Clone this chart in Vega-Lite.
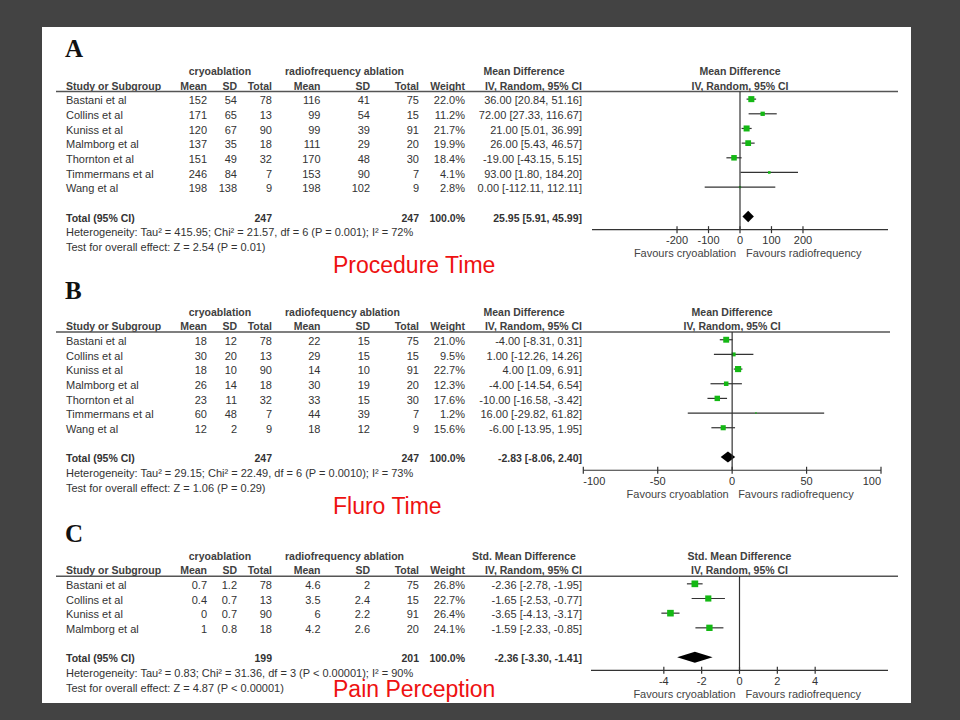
{
"$schema":"https://vega.github.io/schema/vega-lite/v6.json",
"width":869,"height":676,
"autosize":{"type":"none"},
"padding":{"left":42,"top":27,"right":49,"bottom":17},
"background":"#434343",
"config":{"view":{"fill":"#ffffff","stroke":null},"text":{"font":"Liberation Sans","fontSize":11,"color":"#333333"}},
"datasets":{
"rowsA":[
{"study":"Bastani et al","cMean":152,"cSD":54,"cN":78,"rMean":116,"rSD":41,"rN":75,"w":0.220,"ci":"36.00 [20.84, 51.16]","est":36,"lo":20.84,"hi":51.16},
{"study":"Collins et al","cMean":171,"cSD":65,"cN":13,"rMean":99,"rSD":54,"rN":15,"w":0.112,"ci":"72.00 [27.33, 116.67]","est":72,"lo":27.33,"hi":116.67},
{"study":"Kuniss et al","cMean":120,"cSD":67,"cN":90,"rMean":99,"rSD":39,"rN":91,"w":0.217,"ci":"21.00 [5.01, 36.99]","est":21,"lo":5.01,"hi":36.99},
{"study":"Malmborg et al","cMean":137,"cSD":35,"cN":18,"rMean":111,"rSD":29,"rN":20,"w":0.199,"ci":"26.00 [5.43, 46.57]","est":26,"lo":5.43,"hi":46.57},
{"study":"Thornton et al","cMean":151,"cSD":49,"cN":32,"rMean":170,"rSD":48,"rN":30,"w":0.184,"ci":"-19.00 [-43.15, 5.15]","est":-19,"lo":-43.15,"hi":5.15},
{"study":"Timmermans et al","cMean":246,"cSD":84,"cN":7,"rMean":153,"rSD":90,"rN":7,"w":0.041,"ci":"93.00 [1.80, 184.20]","est":93,"lo":1.8,"hi":184.2},
{"study":"Wang et al","cMean":198,"cSD":138,"cN":9,"rMean":198,"rSD":102,"rN":9,"w":0.028,"ci":"0.00 [-112.11, 112.11]","est":0,"lo":-112.11,"hi":112.11}
],
"metaA":[{"letter":"A","grpC":"cryoablation","grpR":"radiofrequency ablation","effect":"Mean Difference","method":"IV, Random, 95% CI","totLabel":"Total (95% CI)","totC":247,"totR":247,"totW":1,"totCI":"25.95 [5.91, 45.99]","est":25.95,"lo":5.91,"hi":45.99,"het":"Heterogeneity: Tau² = 415.95; Chi² = 21.57, df = 6 (P = 0.001); I² = 72%","test":"Test for overall effect: Z = 2.54 (P = 0.01)","title":"Procedure Time","favL":"Favours cryoablation","favR":"Favours radiofrequency"}],
"ticksA":[{"t":-200},{"t":-100},{"t":0},{"t":100},{"t":200}],
"rowsB":[
{"study":"Bastani et al","cMean":18,"cSD":12,"cN":78,"rMean":22,"rSD":15,"rN":75,"w":0.210,"ci":"-4.00 [-8.31, 0.31]","est":-4,"lo":-8.31,"hi":0.31},
{"study":"Collins et al","cMean":30,"cSD":20,"cN":13,"rMean":29,"rSD":15,"rN":15,"w":0.095,"ci":"1.00 [-12.26, 14.26]","est":1,"lo":-12.26,"hi":14.26},
{"study":"Kuniss et al","cMean":18,"cSD":10,"cN":90,"rMean":14,"rSD":10,"rN":91,"w":0.227,"ci":"4.00 [1.09, 6.91]","est":4,"lo":1.09,"hi":6.91},
{"study":"Malmborg et al","cMean":26,"cSD":14,"cN":18,"rMean":30,"rSD":19,"rN":20,"w":0.123,"ci":"-4.00 [-14.54, 6.54]","est":-4,"lo":-14.54,"hi":6.54},
{"study":"Thornton et al","cMean":23,"cSD":11,"cN":32,"rMean":33,"rSD":15,"rN":30,"w":0.176,"ci":"-10.00 [-16.58, -3.42]","est":-10,"lo":-16.58,"hi":-3.42},
{"study":"Timmermans et al","cMean":60,"cSD":48,"cN":7,"rMean":44,"rSD":39,"rN":7,"w":0.012,"ci":"16.00 [-29.82, 61.82]","est":16,"lo":-29.82,"hi":61.82},
{"study":"Wang et al","cMean":12,"cSD":2,"cN":9,"rMean":18,"rSD":12,"rN":9,"w":0.156,"ci":"-6.00 [-13.95, 1.95]","est":-6,"lo":-13.95,"hi":1.95}
],
"metaB":[{"letter":"B","grpC":"cryoablation","grpR":"radiofequency ablation","effect":"Mean Difference","method":"IV, Random, 95% CI","totLabel":"Total (95% CI)","totC":247,"totR":247,"totW":1,"totCI":"-2.83 [-8.06, 2.40]","est":-2.83,"lo":-8.06,"hi":2.40,"het":"Heterogeneity: Tau² = 29.15; Chi² = 22.49, df = 6 (P = 0.0010); I² = 73%","test":"Test for overall effect: Z = 1.06 (P = 0.29)","title":"Fluro Time","favL":"Favours cryoablation","favR":"Favours radiofrequency"}],
"ticksB":[{"t":-100},{"t":-50},{"t":0},{"t":50},{"t":100}],
"rowsC":[
{"study":"Bastani et al","cMean":0.7,"cSD":1.2,"cN":78,"rMean":4.6,"rSD":2,"rN":75,"w":0.268,"ci":"-2.36 [-2.78, -1.95]","est":-2.36,"lo":-2.78,"hi":-1.95},
{"study":"Collins et al","cMean":0.4,"cSD":0.7,"cN":13,"rMean":3.5,"rSD":2.4,"rN":15,"w":0.227,"ci":"-1.65 [-2.53, -0.77]","est":-1.65,"lo":-2.53,"hi":-0.77},
{"study":"Kuniss et al","cMean":0,"cSD":0.7,"cN":90,"rMean":6,"rSD":2.2,"rN":91,"w":0.264,"ci":"-3.65 [-4.13, -3.17]","est":-3.65,"lo":-4.13,"hi":-3.17},
{"study":"Malmborg et al","cMean":1,"cSD":0.8,"cN":18,"rMean":4.2,"rSD":2.6,"rN":20,"w":0.241,"ci":"-1.59 [-2.33, -0.85]","est":-1.59,"lo":-2.33,"hi":-0.85}
],
"metaC":[{"letter":"C","grpC":"cryoablation","grpR":"radiofrequency ablation","effect":"Std. Mean Difference","method":"IV, Random, 95% CI","totLabel":"Total (95% CI)","totC":199,"totR":201,"totW":1,"totCI":"-2.36 [-3.30, -1.41]","est":-2.36,"lo":-3.30,"hi":-1.41,"het":"Heterogeneity: Tau² = 0.83; Chi² = 31.36, df = 3 (P < 0.00001); I² = 90%","test":"Test for overall effect: Z = 4.87 (P < 0.00001)","title":"Pain Perception","favL":"Favours cryoablation","favR":"Favours radiofrequency"}],
"ticksC":[{"t":-4},{"t":-2},{"t":0},{"t":2},{"t":4}]
},
"layer":[
{"layer":[
{"layer":[
{"data":{"name":"metaA"},"mark":{"type":"text","align":"left","baseline":"middle","font":"Liberation Serif","fontSize":25,"fontWeight":"bold","color":"#111111","dy":6},"encoding":{"x":{"datum":23,"type":"quantitative","scale":{"domain":[0,869],"range":[0,869],"nice":false,"zero":false},"axis":null},"y":{"datum":"letter","type":"nominal","scale":{"type":"band","domain":["letter","g0","h1","h2","Bastani et al","Collins et al","Kuniss et al","Malmborg et al","Thornton et al","Timmermans et al","Wang et al","gap","total","het","test","title"],"range":[8.33,243],"paddingInner":0,"paddingOuter":0},"axis":null},"text":{"field":"letter","type":"nominal"}}},
{"data":{"name":"metaA"},"mark":{"type":"text","align":"left","baseline":"middle","fontWeight":"bold","fontSize":10.5,"color":"#404040"},"encoding":{"x":{"datum":146.7,"type":"quantitative","scale":{"domain":[0,869],"range":[0,869],"nice":false,"zero":false},"axis":null},"y":{"datum":"h1","type":"nominal","scale":{"type":"band","domain":["letter","g0","h1","h2","Bastani et al","Collins et al","Kuniss et al","Malmborg et al","Thornton et al","Timmermans et al","Wang et al","gap","total","het","test","title"],"range":[8.33,243],"paddingInner":0,"paddingOuter":0},"axis":null},"text":{"field":"grpC","type":"nominal"}}},
{"data":{"name":"metaA"},"mark":{"type":"text","align":"left","baseline":"middle","fontWeight":"bold","fontSize":10.5,"color":"#404040"},"encoding":{"x":{"datum":243,"type":"quantitative","scale":{"domain":[0,869],"range":[0,869],"nice":false,"zero":false},"axis":null},"y":{"datum":"h1","type":"nominal","scale":{"type":"band","domain":["letter","g0","h1","h2","Bastani et al","Collins et al","Kuniss et al","Malmborg et al","Thornton et al","Timmermans et al","Wang et al","gap","total","het","test","title"],"range":[8.33,243],"paddingInner":0,"paddingOuter":0},"axis":null},"text":{"field":"grpR","type":"nominal"}}},
{"data":{"name":"metaA"},"mark":{"type":"text","align":"center","baseline":"middle","fontWeight":"bold","fontSize":10.5,"color":"#404040"},"encoding":{"x":{"datum":482,"type":"quantitative","scale":{"domain":[0,869],"range":[0,869],"nice":false,"zero":false},"axis":null},"y":{"datum":"h1","type":"nominal","scale":{"type":"band","domain":["letter","g0","h1","h2","Bastani et al","Collins et al","Kuniss et al","Malmborg et al","Thornton et al","Timmermans et al","Wang et al","gap","total","het","test","title"],"range":[8.33,243],"paddingInner":0,"paddingOuter":0},"axis":null},"text":{"field":"effect","type":"nominal"}}},
{"data":{"name":"metaA"},"mark":{"type":"text","align":"left","baseline":"middle","fontWeight":"bold","fontSize":10.5,"color":"#404040"},"encoding":{"x":{"datum":24,"type":"quantitative","scale":{"domain":[0,869],"range":[0,869],"nice":false,"zero":false},"axis":null},"y":{"datum":"h2","type":"nominal","scale":{"type":"band","domain":["letter","g0","h1","h2","Bastani et al","Collins et al","Kuniss et al","Malmborg et al","Thornton et al","Timmermans et al","Wang et al","gap","total","het","test","title"],"range":[8.33,243],"paddingInner":0,"paddingOuter":0},"axis":null},"text":{"value":"Study or Subgroup"}}},
{"data":{"name":"metaA"},"mark":{"type":"text","align":"right","baseline":"middle","fontWeight":"bold","fontSize":10.5,"color":"#404040"},"encoding":{"x":{"datum":165,"type":"quantitative","scale":{"domain":[0,869],"range":[0,869],"nice":false,"zero":false},"axis":null},"y":{"datum":"h2","type":"nominal","scale":{"type":"band","domain":["letter","g0","h1","h2","Bastani et al","Collins et al","Kuniss et al","Malmborg et al","Thornton et al","Timmermans et al","Wang et al","gap","total","het","test","title"],"range":[8.33,243],"paddingInner":0,"paddingOuter":0},"axis":null},"text":{"value":"Mean"}}},
{"data":{"name":"metaA"},"mark":{"type":"text","align":"right","baseline":"middle","fontWeight":"bold","fontSize":10.5,"color":"#404040"},"encoding":{"x":{"datum":195,"type":"quantitative","scale":{"domain":[0,869],"range":[0,869],"nice":false,"zero":false},"axis":null},"y":{"datum":"h2","type":"nominal","scale":{"type":"band","domain":["letter","g0","h1","h2","Bastani et al","Collins et al","Kuniss et al","Malmborg et al","Thornton et al","Timmermans et al","Wang et al","gap","total","het","test","title"],"range":[8.33,243],"paddingInner":0,"paddingOuter":0},"axis":null},"text":{"value":"SD"}}},
{"data":{"name":"metaA"},"mark":{"type":"text","align":"right","baseline":"middle","fontWeight":"bold","fontSize":10.5,"color":"#404040"},"encoding":{"x":{"datum":230,"type":"quantitative","scale":{"domain":[0,869],"range":[0,869],"nice":false,"zero":false},"axis":null},"y":{"datum":"h2","type":"nominal","scale":{"type":"band","domain":["letter","g0","h1","h2","Bastani et al","Collins et al","Kuniss et al","Malmborg et al","Thornton et al","Timmermans et al","Wang et al","gap","total","het","test","title"],"range":[8.33,243],"paddingInner":0,"paddingOuter":0},"axis":null},"text":{"value":"Total"}}},
{"data":{"name":"metaA"},"mark":{"type":"text","align":"right","baseline":"middle","fontWeight":"bold","fontSize":10.5,"color":"#404040"},"encoding":{"x":{"datum":278.5,"type":"quantitative","scale":{"domain":[0,869],"range":[0,869],"nice":false,"zero":false},"axis":null},"y":{"datum":"h2","type":"nominal","scale":{"type":"band","domain":["letter","g0","h1","h2","Bastani et al","Collins et al","Kuniss et al","Malmborg et al","Thornton et al","Timmermans et al","Wang et al","gap","total","het","test","title"],"range":[8.33,243],"paddingInner":0,"paddingOuter":0},"axis":null},"text":{"value":"Mean"}}},
{"data":{"name":"metaA"},"mark":{"type":"text","align":"right","baseline":"middle","fontWeight":"bold","fontSize":10.5,"color":"#404040"},"encoding":{"x":{"datum":328,"type":"quantitative","scale":{"domain":[0,869],"range":[0,869],"nice":false,"zero":false},"axis":null},"y":{"datum":"h2","type":"nominal","scale":{"type":"band","domain":["letter","g0","h1","h2","Bastani et al","Collins et al","Kuniss et al","Malmborg et al","Thornton et al","Timmermans et al","Wang et al","gap","total","het","test","title"],"range":[8.33,243],"paddingInner":0,"paddingOuter":0},"axis":null},"text":{"value":"SD"}}},
{"data":{"name":"metaA"},"mark":{"type":"text","align":"right","baseline":"middle","fontWeight":"bold","fontSize":10.5,"color":"#404040"},"encoding":{"x":{"datum":377,"type":"quantitative","scale":{"domain":[0,869],"range":[0,869],"nice":false,"zero":false},"axis":null},"y":{"datum":"h2","type":"nominal","scale":{"type":"band","domain":["letter","g0","h1","h2","Bastani et al","Collins et al","Kuniss et al","Malmborg et al","Thornton et al","Timmermans et al","Wang et al","gap","total","het","test","title"],"range":[8.33,243],"paddingInner":0,"paddingOuter":0},"axis":null},"text":{"value":"Total"}}},
{"data":{"name":"metaA"},"mark":{"type":"text","align":"right","baseline":"middle","fontWeight":"bold","fontSize":10.5,"color":"#404040"},"encoding":{"x":{"datum":423,"type":"quantitative","scale":{"domain":[0,869],"range":[0,869],"nice":false,"zero":false},"axis":null},"y":{"datum":"h2","type":"nominal","scale":{"type":"band","domain":["letter","g0","h1","h2","Bastani et al","Collins et al","Kuniss et al","Malmborg et al","Thornton et al","Timmermans et al","Wang et al","gap","total","het","test","title"],"range":[8.33,243],"paddingInner":0,"paddingOuter":0},"axis":null},"text":{"value":"Weight"}}},
{"data":{"name":"metaA"},"mark":{"type":"text","align":"right","baseline":"middle","fontWeight":"bold","fontSize":10.5,"color":"#404040"},"encoding":{"x":{"datum":540,"type":"quantitative","scale":{"domain":[0,869],"range":[0,869],"nice":false,"zero":false},"axis":null},"y":{"datum":"h2","type":"nominal","scale":{"type":"band","domain":["letter","g0","h1","h2","Bastani et al","Collins et al","Kuniss et al","Malmborg et al","Thornton et al","Timmermans et al","Wang et al","gap","total","het","test","title"],"range":[8.33,243],"paddingInner":0,"paddingOuter":0},"axis":null},"text":{"field":"method","type":"nominal"}}},
{"data":{"name":"rowsA"},"mark":{"type":"text","align":"left","baseline":"middle"},"encoding":{"x":{"datum":24,"type":"quantitative","scale":{"domain":[0,869],"range":[0,869],"nice":false,"zero":false},"axis":null},"y":{"field":"study","type":"nominal","scale":{"type":"band","domain":["letter","g0","h1","h2","Bastani et al","Collins et al","Kuniss et al","Malmborg et al","Thornton et al","Timmermans et al","Wang et al","gap","total","het","test","title"],"range":[8.33,243],"paddingInner":0,"paddingOuter":0},"axis":null},"text":{"field":"study","type":"nominal"}}},
{"data":{"name":"rowsA"},"mark":{"type":"text","align":"right","baseline":"middle"},"encoding":{"x":{"datum":165,"type":"quantitative","scale":{"domain":[0,869],"range":[0,869],"nice":false,"zero":false},"axis":null},"y":{"field":"study","type":"nominal","scale":{"type":"band","domain":["letter","g0","h1","h2","Bastani et al","Collins et al","Kuniss et al","Malmborg et al","Thornton et al","Timmermans et al","Wang et al","gap","total","het","test","title"],"range":[8.33,243],"paddingInner":0,"paddingOuter":0},"axis":null},"text":{"field":"cMean","type":"nominal"}}},
{"data":{"name":"rowsA"},"mark":{"type":"text","align":"right","baseline":"middle"},"encoding":{"x":{"datum":195,"type":"quantitative","scale":{"domain":[0,869],"range":[0,869],"nice":false,"zero":false},"axis":null},"y":{"field":"study","type":"nominal","scale":{"type":"band","domain":["letter","g0","h1","h2","Bastani et al","Collins et al","Kuniss et al","Malmborg et al","Thornton et al","Timmermans et al","Wang et al","gap","total","het","test","title"],"range":[8.33,243],"paddingInner":0,"paddingOuter":0},"axis":null},"text":{"field":"cSD","type":"nominal"}}},
{"data":{"name":"rowsA"},"mark":{"type":"text","align":"right","baseline":"middle"},"encoding":{"x":{"datum":230,"type":"quantitative","scale":{"domain":[0,869],"range":[0,869],"nice":false,"zero":false},"axis":null},"y":{"field":"study","type":"nominal","scale":{"type":"band","domain":["letter","g0","h1","h2","Bastani et al","Collins et al","Kuniss et al","Malmborg et al","Thornton et al","Timmermans et al","Wang et al","gap","total","het","test","title"],"range":[8.33,243],"paddingInner":0,"paddingOuter":0},"axis":null},"text":{"field":"cN","type":"nominal"}}},
{"data":{"name":"rowsA"},"mark":{"type":"text","align":"right","baseline":"middle"},"encoding":{"x":{"datum":278.5,"type":"quantitative","scale":{"domain":[0,869],"range":[0,869],"nice":false,"zero":false},"axis":null},"y":{"field":"study","type":"nominal","scale":{"type":"band","domain":["letter","g0","h1","h2","Bastani et al","Collins et al","Kuniss et al","Malmborg et al","Thornton et al","Timmermans et al","Wang et al","gap","total","het","test","title"],"range":[8.33,243],"paddingInner":0,"paddingOuter":0},"axis":null},"text":{"field":"rMean","type":"nominal"}}},
{"data":{"name":"rowsA"},"mark":{"type":"text","align":"right","baseline":"middle"},"encoding":{"x":{"datum":328,"type":"quantitative","scale":{"domain":[0,869],"range":[0,869],"nice":false,"zero":false},"axis":null},"y":{"field":"study","type":"nominal","scale":{"type":"band","domain":["letter","g0","h1","h2","Bastani et al","Collins et al","Kuniss et al","Malmborg et al","Thornton et al","Timmermans et al","Wang et al","gap","total","het","test","title"],"range":[8.33,243],"paddingInner":0,"paddingOuter":0},"axis":null},"text":{"field":"rSD","type":"nominal"}}},
{"data":{"name":"rowsA"},"mark":{"type":"text","align":"right","baseline":"middle"},"encoding":{"x":{"datum":377,"type":"quantitative","scale":{"domain":[0,869],"range":[0,869],"nice":false,"zero":false},"axis":null},"y":{"field":"study","type":"nominal","scale":{"type":"band","domain":["letter","g0","h1","h2","Bastani et al","Collins et al","Kuniss et al","Malmborg et al","Thornton et al","Timmermans et al","Wang et al","gap","total","het","test","title"],"range":[8.33,243],"paddingInner":0,"paddingOuter":0},"axis":null},"text":{"field":"rN","type":"nominal"}}},
{"data":{"name":"rowsA"},"mark":{"type":"text","align":"right","baseline":"middle"},"encoding":{"x":{"datum":423,"type":"quantitative","scale":{"domain":[0,869],"range":[0,869],"nice":false,"zero":false},"axis":null},"y":{"field":"study","type":"nominal","scale":{"type":"band","domain":["letter","g0","h1","h2","Bastani et al","Collins et al","Kuniss et al","Malmborg et al","Thornton et al","Timmermans et al","Wang et al","gap","total","het","test","title"],"range":[8.33,243],"paddingInner":0,"paddingOuter":0},"axis":null},"text":{"field":"w","type":"quantitative","format":".1%"}}},
{"data":{"name":"rowsA"},"mark":{"type":"text","align":"right","baseline":"middle"},"encoding":{"x":{"datum":540,"type":"quantitative","scale":{"domain":[0,869],"range":[0,869],"nice":false,"zero":false},"axis":null},"y":{"field":"study","type":"nominal","scale":{"type":"band","domain":["letter","g0","h1","h2","Bastani et al","Collins et al","Kuniss et al","Malmborg et al","Thornton et al","Timmermans et al","Wang et al","gap","total","het","test","title"],"range":[8.33,243],"paddingInner":0,"paddingOuter":0},"axis":null},"text":{"field":"ci","type":"nominal"}}},
{"data":{"name":"metaA"},"mark":{"type":"text","align":"left","baseline":"middle","fontWeight":"bold","fontSize":10.5},"encoding":{"x":{"datum":24,"type":"quantitative","scale":{"domain":[0,869],"range":[0,869],"nice":false,"zero":false},"axis":null},"y":{"datum":"total","type":"nominal","scale":{"type":"band","domain":["letter","g0","h1","h2","Bastani et al","Collins et al","Kuniss et al","Malmborg et al","Thornton et al","Timmermans et al","Wang et al","gap","total","het","test","title"],"range":[8.33,243],"paddingInner":0,"paddingOuter":0},"axis":null},"text":{"field":"totLabel","type":"nominal"}}},
{"data":{"name":"metaA"},"mark":{"type":"text","align":"right","baseline":"middle","fontWeight":"bold","fontSize":10.5},"encoding":{"x":{"datum":230,"type":"quantitative","scale":{"domain":[0,869],"range":[0,869],"nice":false,"zero":false},"axis":null},"y":{"datum":"total","type":"nominal","scale":{"type":"band","domain":["letter","g0","h1","h2","Bastani et al","Collins et al","Kuniss et al","Malmborg et al","Thornton et al","Timmermans et al","Wang et al","gap","total","het","test","title"],"range":[8.33,243],"paddingInner":0,"paddingOuter":0},"axis":null},"text":{"field":"totC","type":"nominal"}}},
{"data":{"name":"metaA"},"mark":{"type":"text","align":"right","baseline":"middle","fontWeight":"bold","fontSize":10.5},"encoding":{"x":{"datum":377,"type":"quantitative","scale":{"domain":[0,869],"range":[0,869],"nice":false,"zero":false},"axis":null},"y":{"datum":"total","type":"nominal","scale":{"type":"band","domain":["letter","g0","h1","h2","Bastani et al","Collins et al","Kuniss et al","Malmborg et al","Thornton et al","Timmermans et al","Wang et al","gap","total","het","test","title"],"range":[8.33,243],"paddingInner":0,"paddingOuter":0},"axis":null},"text":{"field":"totR","type":"nominal"}}},
{"data":{"name":"metaA"},"mark":{"type":"text","align":"right","baseline":"middle","fontWeight":"bold","fontSize":10.5},"encoding":{"x":{"datum":423,"type":"quantitative","scale":{"domain":[0,869],"range":[0,869],"nice":false,"zero":false},"axis":null},"y":{"datum":"total","type":"nominal","scale":{"type":"band","domain":["letter","g0","h1","h2","Bastani et al","Collins et al","Kuniss et al","Malmborg et al","Thornton et al","Timmermans et al","Wang et al","gap","total","het","test","title"],"range":[8.33,243],"paddingInner":0,"paddingOuter":0},"axis":null},"text":{"field":"totW","type":"quantitative","format":".1%"}}},
{"data":{"name":"metaA"},"mark":{"type":"text","align":"right","baseline":"middle","fontWeight":"bold","fontSize":10.5},"encoding":{"x":{"datum":540,"type":"quantitative","scale":{"domain":[0,869],"range":[0,869],"nice":false,"zero":false},"axis":null},"y":{"datum":"total","type":"nominal","scale":{"type":"band","domain":["letter","g0","h1","h2","Bastani et al","Collins et al","Kuniss et al","Malmborg et al","Thornton et al","Timmermans et al","Wang et al","gap","total","het","test","title"],"range":[8.33,243],"paddingInner":0,"paddingOuter":0},"axis":null},"text":{"field":"totCI","type":"nominal"}}},
{"data":{"name":"metaA"},"mark":{"type":"text","align":"left","baseline":"middle"},"encoding":{"x":{"datum":24,"type":"quantitative","scale":{"domain":[0,869],"range":[0,869],"nice":false,"zero":false},"axis":null},"y":{"datum":"het","type":"nominal","scale":{"type":"band","domain":["letter","g0","h1","h2","Bastani et al","Collins et al","Kuniss et al","Malmborg et al","Thornton et al","Timmermans et al","Wang et al","gap","total","het","test","title"],"range":[8.33,243],"paddingInner":0,"paddingOuter":0},"axis":null},"text":{"field":"het","type":"nominal"}}},
{"data":{"name":"metaA"},"mark":{"type":"text","align":"left","baseline":"middle"},"encoding":{"x":{"datum":24,"type":"quantitative","scale":{"domain":[0,869],"range":[0,869],"nice":false,"zero":false},"axis":null},"y":{"datum":"test","type":"nominal","scale":{"type":"band","domain":["letter","g0","h1","h2","Bastani et al","Collins et al","Kuniss et al","Malmborg et al","Thornton et al","Timmermans et al","Wang et al","gap","total","het","test","title"],"range":[8.33,243],"paddingInner":0,"paddingOuter":0},"axis":null},"text":{"field":"test","type":"nominal"}}},
{"data":{"name":"metaA"},"mark":{"type":"text","align":"left","baseline":"middle","fontSize":23,"color":"#ee1111","dy":3.5},"encoding":{"x":{"datum":291,"type":"quantitative","scale":{"domain":[0,869],"range":[0,869],"nice":false,"zero":false},"axis":null},"y":{"datum":"title","type":"nominal","scale":{"type":"band","domain":["letter","g0","h1","h2","Bastani et al","Collins et al","Kuniss et al","Malmborg et al","Thornton et al","Timmermans et al","Wang et al","gap","total","het","test","title"],"range":[8.33,243],"paddingInner":0,"paddingOuter":0},"axis":null},"text":{"field":"title","type":"nominal"}}},
{"data":{"name":"metaA"},"mark":{"type":"rule","color":"#555555","strokeWidth":1.5},"encoding":{"x":{"datum":14,"type":"quantitative","scale":{"domain":[0,869],"range":[0,869],"nice":false,"zero":false},"axis":null},"x2":{"datum":856},"y":{"datum":"h2","type":"nominal","bandPosition":0.83,"scale":{"type":"band","domain":["letter","g0","h1","h2","Bastani et al","Collins et al","Kuniss et al","Malmborg et al","Thornton et al","Timmermans et al","Wang et al","gap","total","het","test","title"],"range":[8.33,243],"paddingInner":0,"paddingOuter":0},"axis":null}}}
]},
{"layer":[
{"data":{"name":"rowsA"},"mark":{"type":"rule","color":"#333333","strokeWidth":1.2},"encoding":{"x":{"field":"lo","type":"quantitative","scale":{"domain":[-470,470],"range":[550,846],"nice":false,"zero":false},"axis":null},"x2":{"field":"hi"},"y":{"field":"study","type":"nominal","bandPosition":0.35,"scale":{"type":"band","domain":["letter","g0","h1","h2","Bastani et al","Collins et al","Kuniss et al","Malmborg et al","Thornton et al","Timmermans et al","Wang et al","gap","total","het","test","title"],"range":[8.33,243],"paddingInner":0,"paddingOuter":0},"axis":null}}},
{"data":{"name":"rowsA"},"mark":{"type":"point","shape":"square","filled":true,"color":"#14b814","opacity":1},"encoding":{"x":{"field":"est","type":"quantitative","scale":{"domain":[-470,470],"range":[550,846],"nice":false,"zero":false},"axis":null},"y":{"field":"study","type":"nominal","bandPosition":0.35,"scale":{"type":"band","domain":["letter","g0","h1","h2","Bastani et al","Collins et al","Kuniss et al","Malmborg et al","Thornton et al","Timmermans et al","Wang et al","gap","total","het","test","title"],"range":[8.33,243],"paddingInner":0,"paddingOuter":0},"axis":null},"size":{"field":"w","type":"quantitative","scale":{"domain":[0,0.3],"range":[0,50]},"legend":null}}},
{"data":{"name":"metaA"},"mark":{"type":"point","shape":"M-1,0L0,-1L1,0L0,1Z","size":130,"filled":true,"color":"#000000","opacity":1},"encoding":{"x":{"field":"est","type":"quantitative","scale":{"domain":[-470,470],"range":[550,846],"nice":false,"zero":false},"axis":null},"y":{"datum":"total","type":"nominal","bandPosition":0.35,"scale":{"type":"band","domain":["letter","g0","h1","h2","Bastani et al","Collins et al","Kuniss et al","Malmborg et al","Thornton et al","Timmermans et al","Wang et al","gap","total","het","test","title"],"range":[8.33,243],"paddingInner":0,"paddingOuter":0},"axis":null}}},
{"data":{"name":"metaA"},"mark":{"type":"rule","color":"#333333","strokeWidth":1.2},"encoding":{"x":{"datum":0,"type":"quantitative","scale":{"domain":[-470,470],"range":[550,846],"nice":false,"zero":false},"axis":null},"y":{"datum":"h2","type":"nominal","bandPosition":0.83,"scale":{"type":"band","domain":["letter","g0","h1","h2","Bastani et al","Collins et al","Kuniss et al","Malmborg et al","Thornton et al","Timmermans et al","Wang et al","gap","total","het","test","title"],"range":[8.33,243],"paddingInner":0,"paddingOuter":0},"axis":null},"y2":{"datum":"het","bandPosition":0.25}}},
{"data":{"name":"metaA"},"mark":{"type":"rule","color":"#333333","strokeWidth":1.2},"encoding":{"x":{"datum":-470,"type":"quantitative","scale":{"domain":[-470,470],"range":[550,846],"nice":false,"zero":false},"axis":null},"x2":{"datum":470},"y":{"datum":"het","type":"nominal","bandPosition":0.25,"scale":{"type":"band","domain":["letter","g0","h1","h2","Bastani et al","Collins et al","Kuniss et al","Malmborg et al","Thornton et al","Timmermans et al","Wang et al","gap","total","het","test","title"],"range":[8.33,243],"paddingInner":0,"paddingOuter":0},"axis":null}}},
{"data":{"name":"ticksA"},"mark":{"type":"point","shape":"M0,-1L0,1","size":49,"filled":false,"color":"#333333","strokeWidth":1.2,"opacity":1},"encoding":{"x":{"field":"t","type":"quantitative","scale":{"domain":[-470,470],"range":[550,846],"nice":false,"zero":false},"axis":null},"y":{"datum":"het","type":"nominal","bandPosition":0.25,"scale":{"type":"band","domain":["letter","g0","h1","h2","Bastani et al","Collins et al","Kuniss et al","Malmborg et al","Thornton et al","Timmermans et al","Wang et al","gap","total","het","test","title"],"range":[8.33,243],"paddingInner":0,"paddingOuter":0},"axis":null}}},
{"data":{"name":"ticksA"},"mark":{"type":"text","align":"center","baseline":"middle","dy":8},"encoding":{"x":{"field":"t","type":"quantitative","scale":{"domain":[-470,470],"range":[550,846],"nice":false,"zero":false},"axis":null},"y":{"datum":"het","type":"nominal","scale":{"type":"band","domain":["letter","g0","h1","h2","Bastani et al","Collins et al","Kuniss et al","Malmborg et al","Thornton et al","Timmermans et al","Wang et al","gap","total","het","test","title"],"range":[8.33,243],"paddingInner":0,"paddingOuter":0},"axis":null},"text":{"field":"t","type":"nominal"}}},
{"data":{"name":"metaA"},"mark":{"type":"text","align":"right","baseline":"middle","dy":6,"dx":-4,"color":"#444444"},"encoding":{"x":{"datum":0,"type":"quantitative","scale":{"domain":[-470,470],"range":[550,846],"nice":false,"zero":false},"axis":null},"y":{"datum":"test","type":"nominal","scale":{"type":"band","domain":["letter","g0","h1","h2","Bastani et al","Collins et al","Kuniss et al","Malmborg et al","Thornton et al","Timmermans et al","Wang et al","gap","total","het","test","title"],"range":[8.33,243],"paddingInner":0,"paddingOuter":0},"axis":null},"text":{"field":"favL","type":"nominal"}}},
{"data":{"name":"metaA"},"mark":{"type":"text","align":"left","baseline":"middle","dy":6,"dx":6,"color":"#444444"},"encoding":{"x":{"datum":0,"type":"quantitative","scale":{"domain":[-470,470],"range":[550,846],"nice":false,"zero":false},"axis":null},"y":{"datum":"test","type":"nominal","scale":{"type":"band","domain":["letter","g0","h1","h2","Bastani et al","Collins et al","Kuniss et al","Malmborg et al","Thornton et al","Timmermans et al","Wang et al","gap","total","het","test","title"],"range":[8.33,243],"paddingInner":0,"paddingOuter":0},"axis":null},"text":{"field":"favR","type":"nominal"}}},
{"data":{"name":"metaA"},"mark":{"type":"text","align":"center","baseline":"middle","fontWeight":"bold","fontSize":10.5,"color":"#404040"},"encoding":{"x":{"datum":0,"type":"quantitative","scale":{"domain":[-470,470],"range":[550,846],"nice":false,"zero":false},"axis":null},"y":{"datum":"h1","type":"nominal","scale":{"type":"band","domain":["letter","g0","h1","h2","Bastani et al","Collins et al","Kuniss et al","Malmborg et al","Thornton et al","Timmermans et al","Wang et al","gap","total","het","test","title"],"range":[8.33,243],"paddingInner":0,"paddingOuter":0},"axis":null},"text":{"field":"effect","type":"nominal"}}},
{"data":{"name":"metaA"},"mark":{"type":"text","align":"center","baseline":"middle","fontWeight":"bold","fontSize":10.5,"color":"#404040"},"encoding":{"x":{"datum":0,"type":"quantitative","scale":{"domain":[-470,470],"range":[550,846],"nice":false,"zero":false},"axis":null},"y":{"datum":"h2","type":"nominal","scale":{"type":"band","domain":["letter","g0","h1","h2","Bastani et al","Collins et al","Kuniss et al","Malmborg et al","Thornton et al","Timmermans et al","Wang et al","gap","total","het","test","title"],"range":[8.33,243],"paddingInner":0,"paddingOuter":0},"axis":null},"text":{"field":"method","type":"nominal"}}}
]}
],"resolve":{"scale":{"x":"independent"}}},

{"layer":[
{"layer":[
{"data":{"name":"metaB"},"mark":{"type":"text","align":"left","baseline":"middle","font":"Liberation Serif","fontSize":25,"fontWeight":"bold","color":"#111111","dy":7.5},"encoding":{"x":{"datum":23,"type":"quantitative","scale":{"domain":[0,869],"range":[0,869],"nice":false,"zero":false},"axis":null},"y":{"datum":"letter","type":"nominal","scale":{"type":"band","domain":["letter","g0","h1","h2","Bastani et al","Collins et al","Kuniss et al","Malmborg et al","Thornton et al","Timmermans et al","Wang et al","gap","total","het","test","title"],"range":[248.93,483.6],"paddingInner":0,"paddingOuter":0},"axis":null},"text":{"field":"letter","type":"nominal"}}},
{"data":{"name":"metaB"},"mark":{"type":"text","align":"left","baseline":"middle","fontWeight":"bold","fontSize":10.5,"color":"#404040"},"encoding":{"x":{"datum":146.7,"type":"quantitative","scale":{"domain":[0,869],"range":[0,869],"nice":false,"zero":false},"axis":null},"y":{"datum":"h1","type":"nominal","scale":{"type":"band","domain":["letter","g0","h1","h2","Bastani et al","Collins et al","Kuniss et al","Malmborg et al","Thornton et al","Timmermans et al","Wang et al","gap","total","het","test","title"],"range":[248.93,483.6],"paddingInner":0,"paddingOuter":0},"axis":null},"text":{"field":"grpC","type":"nominal"}}},
{"data":{"name":"metaB"},"mark":{"type":"text","align":"left","baseline":"middle","fontWeight":"bold","fontSize":10.5,"color":"#404040"},"encoding":{"x":{"datum":243,"type":"quantitative","scale":{"domain":[0,869],"range":[0,869],"nice":false,"zero":false},"axis":null},"y":{"datum":"h1","type":"nominal","scale":{"type":"band","domain":["letter","g0","h1","h2","Bastani et al","Collins et al","Kuniss et al","Malmborg et al","Thornton et al","Timmermans et al","Wang et al","gap","total","het","test","title"],"range":[248.93,483.6],"paddingInner":0,"paddingOuter":0},"axis":null},"text":{"field":"grpR","type":"nominal"}}},
{"data":{"name":"metaB"},"mark":{"type":"text","align":"center","baseline":"middle","fontWeight":"bold","fontSize":10.5,"color":"#404040"},"encoding":{"x":{"datum":482,"type":"quantitative","scale":{"domain":[0,869],"range":[0,869],"nice":false,"zero":false},"axis":null},"y":{"datum":"h1","type":"nominal","scale":{"type":"band","domain":["letter","g0","h1","h2","Bastani et al","Collins et al","Kuniss et al","Malmborg et al","Thornton et al","Timmermans et al","Wang et al","gap","total","het","test","title"],"range":[248.93,483.6],"paddingInner":0,"paddingOuter":0},"axis":null},"text":{"field":"effect","type":"nominal"}}},
{"data":{"name":"metaB"},"mark":{"type":"text","align":"left","baseline":"middle","fontWeight":"bold","fontSize":10.5,"color":"#404040"},"encoding":{"x":{"datum":24,"type":"quantitative","scale":{"domain":[0,869],"range":[0,869],"nice":false,"zero":false},"axis":null},"y":{"datum":"h2","type":"nominal","scale":{"type":"band","domain":["letter","g0","h1","h2","Bastani et al","Collins et al","Kuniss et al","Malmborg et al","Thornton et al","Timmermans et al","Wang et al","gap","total","het","test","title"],"range":[248.93,483.6],"paddingInner":0,"paddingOuter":0},"axis":null},"text":{"value":"Study or Subgroup"}}},
{"data":{"name":"metaB"},"mark":{"type":"text","align":"right","baseline":"middle","fontWeight":"bold","fontSize":10.5,"color":"#404040"},"encoding":{"x":{"datum":165,"type":"quantitative","scale":{"domain":[0,869],"range":[0,869],"nice":false,"zero":false},"axis":null},"y":{"datum":"h2","type":"nominal","scale":{"type":"band","domain":["letter","g0","h1","h2","Bastani et al","Collins et al","Kuniss et al","Malmborg et al","Thornton et al","Timmermans et al","Wang et al","gap","total","het","test","title"],"range":[248.93,483.6],"paddingInner":0,"paddingOuter":0},"axis":null},"text":{"value":"Mean"}}},
{"data":{"name":"metaB"},"mark":{"type":"text","align":"right","baseline":"middle","fontWeight":"bold","fontSize":10.5,"color":"#404040"},"encoding":{"x":{"datum":195,"type":"quantitative","scale":{"domain":[0,869],"range":[0,869],"nice":false,"zero":false},"axis":null},"y":{"datum":"h2","type":"nominal","scale":{"type":"band","domain":["letter","g0","h1","h2","Bastani et al","Collins et al","Kuniss et al","Malmborg et al","Thornton et al","Timmermans et al","Wang et al","gap","total","het","test","title"],"range":[248.93,483.6],"paddingInner":0,"paddingOuter":0},"axis":null},"text":{"value":"SD"}}},
{"data":{"name":"metaB"},"mark":{"type":"text","align":"right","baseline":"middle","fontWeight":"bold","fontSize":10.5,"color":"#404040"},"encoding":{"x":{"datum":230,"type":"quantitative","scale":{"domain":[0,869],"range":[0,869],"nice":false,"zero":false},"axis":null},"y":{"datum":"h2","type":"nominal","scale":{"type":"band","domain":["letter","g0","h1","h2","Bastani et al","Collins et al","Kuniss et al","Malmborg et al","Thornton et al","Timmermans et al","Wang et al","gap","total","het","test","title"],"range":[248.93,483.6],"paddingInner":0,"paddingOuter":0},"axis":null},"text":{"value":"Total"}}},
{"data":{"name":"metaB"},"mark":{"type":"text","align":"right","baseline":"middle","fontWeight":"bold","fontSize":10.5,"color":"#404040"},"encoding":{"x":{"datum":278.5,"type":"quantitative","scale":{"domain":[0,869],"range":[0,869],"nice":false,"zero":false},"axis":null},"y":{"datum":"h2","type":"nominal","scale":{"type":"band","domain":["letter","g0","h1","h2","Bastani et al","Collins et al","Kuniss et al","Malmborg et al","Thornton et al","Timmermans et al","Wang et al","gap","total","het","test","title"],"range":[248.93,483.6],"paddingInner":0,"paddingOuter":0},"axis":null},"text":{"value":"Mean"}}},
{"data":{"name":"metaB"},"mark":{"type":"text","align":"right","baseline":"middle","fontWeight":"bold","fontSize":10.5,"color":"#404040"},"encoding":{"x":{"datum":328,"type":"quantitative","scale":{"domain":[0,869],"range":[0,869],"nice":false,"zero":false},"axis":null},"y":{"datum":"h2","type":"nominal","scale":{"type":"band","domain":["letter","g0","h1","h2","Bastani et al","Collins et al","Kuniss et al","Malmborg et al","Thornton et al","Timmermans et al","Wang et al","gap","total","het","test","title"],"range":[248.93,483.6],"paddingInner":0,"paddingOuter":0},"axis":null},"text":{"value":"SD"}}},
{"data":{"name":"metaB"},"mark":{"type":"text","align":"right","baseline":"middle","fontWeight":"bold","fontSize":10.5,"color":"#404040"},"encoding":{"x":{"datum":377,"type":"quantitative","scale":{"domain":[0,869],"range":[0,869],"nice":false,"zero":false},"axis":null},"y":{"datum":"h2","type":"nominal","scale":{"type":"band","domain":["letter","g0","h1","h2","Bastani et al","Collins et al","Kuniss et al","Malmborg et al","Thornton et al","Timmermans et al","Wang et al","gap","total","het","test","title"],"range":[248.93,483.6],"paddingInner":0,"paddingOuter":0},"axis":null},"text":{"value":"Total"}}},
{"data":{"name":"metaB"},"mark":{"type":"text","align":"right","baseline":"middle","fontWeight":"bold","fontSize":10.5,"color":"#404040"},"encoding":{"x":{"datum":423,"type":"quantitative","scale":{"domain":[0,869],"range":[0,869],"nice":false,"zero":false},"axis":null},"y":{"datum":"h2","type":"nominal","scale":{"type":"band","domain":["letter","g0","h1","h2","Bastani et al","Collins et al","Kuniss et al","Malmborg et al","Thornton et al","Timmermans et al","Wang et al","gap","total","het","test","title"],"range":[248.93,483.6],"paddingInner":0,"paddingOuter":0},"axis":null},"text":{"value":"Weight"}}},
{"data":{"name":"metaB"},"mark":{"type":"text","align":"right","baseline":"middle","fontWeight":"bold","fontSize":10.5,"color":"#404040"},"encoding":{"x":{"datum":540,"type":"quantitative","scale":{"domain":[0,869],"range":[0,869],"nice":false,"zero":false},"axis":null},"y":{"datum":"h2","type":"nominal","scale":{"type":"band","domain":["letter","g0","h1","h2","Bastani et al","Collins et al","Kuniss et al","Malmborg et al","Thornton et al","Timmermans et al","Wang et al","gap","total","het","test","title"],"range":[248.93,483.6],"paddingInner":0,"paddingOuter":0},"axis":null},"text":{"field":"method","type":"nominal"}}},
{"data":{"name":"rowsB"},"mark":{"type":"text","align":"left","baseline":"middle"},"encoding":{"x":{"datum":24,"type":"quantitative","scale":{"domain":[0,869],"range":[0,869],"nice":false,"zero":false},"axis":null},"y":{"field":"study","type":"nominal","scale":{"type":"band","domain":["letter","g0","h1","h2","Bastani et al","Collins et al","Kuniss et al","Malmborg et al","Thornton et al","Timmermans et al","Wang et al","gap","total","het","test","title"],"range":[248.93,483.6],"paddingInner":0,"paddingOuter":0},"axis":null},"text":{"field":"study","type":"nominal"}}},
{"data":{"name":"rowsB"},"mark":{"type":"text","align":"right","baseline":"middle"},"encoding":{"x":{"datum":165,"type":"quantitative","scale":{"domain":[0,869],"range":[0,869],"nice":false,"zero":false},"axis":null},"y":{"field":"study","type":"nominal","scale":{"type":"band","domain":["letter","g0","h1","h2","Bastani et al","Collins et al","Kuniss et al","Malmborg et al","Thornton et al","Timmermans et al","Wang et al","gap","total","het","test","title"],"range":[248.93,483.6],"paddingInner":0,"paddingOuter":0},"axis":null},"text":{"field":"cMean","type":"nominal"}}},
{"data":{"name":"rowsB"},"mark":{"type":"text","align":"right","baseline":"middle"},"encoding":{"x":{"datum":195,"type":"quantitative","scale":{"domain":[0,869],"range":[0,869],"nice":false,"zero":false},"axis":null},"y":{"field":"study","type":"nominal","scale":{"type":"band","domain":["letter","g0","h1","h2","Bastani et al","Collins et al","Kuniss et al","Malmborg et al","Thornton et al","Timmermans et al","Wang et al","gap","total","het","test","title"],"range":[248.93,483.6],"paddingInner":0,"paddingOuter":0},"axis":null},"text":{"field":"cSD","type":"nominal"}}},
{"data":{"name":"rowsB"},"mark":{"type":"text","align":"right","baseline":"middle"},"encoding":{"x":{"datum":230,"type":"quantitative","scale":{"domain":[0,869],"range":[0,869],"nice":false,"zero":false},"axis":null},"y":{"field":"study","type":"nominal","scale":{"type":"band","domain":["letter","g0","h1","h2","Bastani et al","Collins et al","Kuniss et al","Malmborg et al","Thornton et al","Timmermans et al","Wang et al","gap","total","het","test","title"],"range":[248.93,483.6],"paddingInner":0,"paddingOuter":0},"axis":null},"text":{"field":"cN","type":"nominal"}}},
{"data":{"name":"rowsB"},"mark":{"type":"text","align":"right","baseline":"middle"},"encoding":{"x":{"datum":278.5,"type":"quantitative","scale":{"domain":[0,869],"range":[0,869],"nice":false,"zero":false},"axis":null},"y":{"field":"study","type":"nominal","scale":{"type":"band","domain":["letter","g0","h1","h2","Bastani et al","Collins et al","Kuniss et al","Malmborg et al","Thornton et al","Timmermans et al","Wang et al","gap","total","het","test","title"],"range":[248.93,483.6],"paddingInner":0,"paddingOuter":0},"axis":null},"text":{"field":"rMean","type":"nominal"}}},
{"data":{"name":"rowsB"},"mark":{"type":"text","align":"right","baseline":"middle"},"encoding":{"x":{"datum":328,"type":"quantitative","scale":{"domain":[0,869],"range":[0,869],"nice":false,"zero":false},"axis":null},"y":{"field":"study","type":"nominal","scale":{"type":"band","domain":["letter","g0","h1","h2","Bastani et al","Collins et al","Kuniss et al","Malmborg et al","Thornton et al","Timmermans et al","Wang et al","gap","total","het","test","title"],"range":[248.93,483.6],"paddingInner":0,"paddingOuter":0},"axis":null},"text":{"field":"rSD","type":"nominal"}}},
{"data":{"name":"rowsB"},"mark":{"type":"text","align":"right","baseline":"middle"},"encoding":{"x":{"datum":377,"type":"quantitative","scale":{"domain":[0,869],"range":[0,869],"nice":false,"zero":false},"axis":null},"y":{"field":"study","type":"nominal","scale":{"type":"band","domain":["letter","g0","h1","h2","Bastani et al","Collins et al","Kuniss et al","Malmborg et al","Thornton et al","Timmermans et al","Wang et al","gap","total","het","test","title"],"range":[248.93,483.6],"paddingInner":0,"paddingOuter":0},"axis":null},"text":{"field":"rN","type":"nominal"}}},
{"data":{"name":"rowsB"},"mark":{"type":"text","align":"right","baseline":"middle"},"encoding":{"x":{"datum":423,"type":"quantitative","scale":{"domain":[0,869],"range":[0,869],"nice":false,"zero":false},"axis":null},"y":{"field":"study","type":"nominal","scale":{"type":"band","domain":["letter","g0","h1","h2","Bastani et al","Collins et al","Kuniss et al","Malmborg et al","Thornton et al","Timmermans et al","Wang et al","gap","total","het","test","title"],"range":[248.93,483.6],"paddingInner":0,"paddingOuter":0},"axis":null},"text":{"field":"w","type":"quantitative","format":".1%"}}},
{"data":{"name":"rowsB"},"mark":{"type":"text","align":"right","baseline":"middle"},"encoding":{"x":{"datum":540,"type":"quantitative","scale":{"domain":[0,869],"range":[0,869],"nice":false,"zero":false},"axis":null},"y":{"field":"study","type":"nominal","scale":{"type":"band","domain":["letter","g0","h1","h2","Bastani et al","Collins et al","Kuniss et al","Malmborg et al","Thornton et al","Timmermans et al","Wang et al","gap","total","het","test","title"],"range":[248.93,483.6],"paddingInner":0,"paddingOuter":0},"axis":null},"text":{"field":"ci","type":"nominal"}}},
{"data":{"name":"metaB"},"mark":{"type":"text","align":"left","baseline":"middle","fontWeight":"bold","fontSize":10.5},"encoding":{"x":{"datum":24,"type":"quantitative","scale":{"domain":[0,869],"range":[0,869],"nice":false,"zero":false},"axis":null},"y":{"datum":"total","type":"nominal","scale":{"type":"band","domain":["letter","g0","h1","h2","Bastani et al","Collins et al","Kuniss et al","Malmborg et al","Thornton et al","Timmermans et al","Wang et al","gap","total","het","test","title"],"range":[248.93,483.6],"paddingInner":0,"paddingOuter":0},"axis":null},"text":{"field":"totLabel","type":"nominal"}}},
{"data":{"name":"metaB"},"mark":{"type":"text","align":"right","baseline":"middle","fontWeight":"bold","fontSize":10.5},"encoding":{"x":{"datum":230,"type":"quantitative","scale":{"domain":[0,869],"range":[0,869],"nice":false,"zero":false},"axis":null},"y":{"datum":"total","type":"nominal","scale":{"type":"band","domain":["letter","g0","h1","h2","Bastani et al","Collins et al","Kuniss et al","Malmborg et al","Thornton et al","Timmermans et al","Wang et al","gap","total","het","test","title"],"range":[248.93,483.6],"paddingInner":0,"paddingOuter":0},"axis":null},"text":{"field":"totC","type":"nominal"}}},
{"data":{"name":"metaB"},"mark":{"type":"text","align":"right","baseline":"middle","fontWeight":"bold","fontSize":10.5},"encoding":{"x":{"datum":377,"type":"quantitative","scale":{"domain":[0,869],"range":[0,869],"nice":false,"zero":false},"axis":null},"y":{"datum":"total","type":"nominal","scale":{"type":"band","domain":["letter","g0","h1","h2","Bastani et al","Collins et al","Kuniss et al","Malmborg et al","Thornton et al","Timmermans et al","Wang et al","gap","total","het","test","title"],"range":[248.93,483.6],"paddingInner":0,"paddingOuter":0},"axis":null},"text":{"field":"totR","type":"nominal"}}},
{"data":{"name":"metaB"},"mark":{"type":"text","align":"right","baseline":"middle","fontWeight":"bold","fontSize":10.5},"encoding":{"x":{"datum":423,"type":"quantitative","scale":{"domain":[0,869],"range":[0,869],"nice":false,"zero":false},"axis":null},"y":{"datum":"total","type":"nominal","scale":{"type":"band","domain":["letter","g0","h1","h2","Bastani et al","Collins et al","Kuniss et al","Malmborg et al","Thornton et al","Timmermans et al","Wang et al","gap","total","het","test","title"],"range":[248.93,483.6],"paddingInner":0,"paddingOuter":0},"axis":null},"text":{"field":"totW","type":"quantitative","format":".1%"}}},
{"data":{"name":"metaB"},"mark":{"type":"text","align":"right","baseline":"middle","fontWeight":"bold","fontSize":10.5},"encoding":{"x":{"datum":540,"type":"quantitative","scale":{"domain":[0,869],"range":[0,869],"nice":false,"zero":false},"axis":null},"y":{"datum":"total","type":"nominal","scale":{"type":"band","domain":["letter","g0","h1","h2","Bastani et al","Collins et al","Kuniss et al","Malmborg et al","Thornton et al","Timmermans et al","Wang et al","gap","total","het","test","title"],"range":[248.93,483.6],"paddingInner":0,"paddingOuter":0},"axis":null},"text":{"field":"totCI","type":"nominal"}}},
{"data":{"name":"metaB"},"mark":{"type":"text","align":"left","baseline":"middle"},"encoding":{"x":{"datum":24,"type":"quantitative","scale":{"domain":[0,869],"range":[0,869],"nice":false,"zero":false},"axis":null},"y":{"datum":"het","type":"nominal","scale":{"type":"band","domain":["letter","g0","h1","h2","Bastani et al","Collins et al","Kuniss et al","Malmborg et al","Thornton et al","Timmermans et al","Wang et al","gap","total","het","test","title"],"range":[248.93,483.6],"paddingInner":0,"paddingOuter":0},"axis":null},"text":{"field":"het","type":"nominal"}}},
{"data":{"name":"metaB"},"mark":{"type":"text","align":"left","baseline":"middle"},"encoding":{"x":{"datum":24,"type":"quantitative","scale":{"domain":[0,869],"range":[0,869],"nice":false,"zero":false},"axis":null},"y":{"datum":"test","type":"nominal","scale":{"type":"band","domain":["letter","g0","h1","h2","Bastani et al","Collins et al","Kuniss et al","Malmborg et al","Thornton et al","Timmermans et al","Wang et al","gap","total","het","test","title"],"range":[248.93,483.6],"paddingInner":0,"paddingOuter":0},"axis":null},"text":{"field":"test","type":"nominal"}}},
{"data":{"name":"metaB"},"mark":{"type":"text","align":"left","baseline":"middle","fontSize":23,"color":"#ee1111","dy":3.5},"encoding":{"x":{"datum":291,"type":"quantitative","scale":{"domain":[0,869],"range":[0,869],"nice":false,"zero":false},"axis":null},"y":{"datum":"title","type":"nominal","scale":{"type":"band","domain":["letter","g0","h1","h2","Bastani et al","Collins et al","Kuniss et al","Malmborg et al","Thornton et al","Timmermans et al","Wang et al","gap","total","het","test","title"],"range":[248.93,483.6],"paddingInner":0,"paddingOuter":0},"axis":null},"text":{"field":"title","type":"nominal"}}},
{"data":{"name":"metaB"},"mark":{"type":"rule","color":"#555555","strokeWidth":1.5},"encoding":{"x":{"datum":14,"type":"quantitative","scale":{"domain":[0,869],"range":[0,869],"nice":false,"zero":false},"axis":null},"x2":{"datum":848},"y":{"datum":"h2","type":"nominal","bandPosition":0.83,"scale":{"type":"band","domain":["letter","g0","h1","h2","Bastani et al","Collins et al","Kuniss et al","Malmborg et al","Thornton et al","Timmermans et al","Wang et al","gap","total","het","test","title"],"range":[248.93,483.6],"paddingInner":0,"paddingOuter":0},"axis":null}}}
]},
{"layer":[
{"data":{"name":"rowsB"},"mark":{"type":"rule","color":"#333333","strokeWidth":1.2},"encoding":{"x":{"field":"lo","type":"quantitative","scale":{"domain":[-100,100],"range":[541.3,839],"nice":false,"zero":false},"axis":null},"x2":{"field":"hi"},"y":{"field":"study","type":"nominal","bandPosition":0.35,"scale":{"type":"band","domain":["letter","g0","h1","h2","Bastani et al","Collins et al","Kuniss et al","Malmborg et al","Thornton et al","Timmermans et al","Wang et al","gap","total","het","test","title"],"range":[248.93,483.6],"paddingInner":0,"paddingOuter":0},"axis":null}}},
{"data":{"name":"rowsB"},"mark":{"type":"point","shape":"square","filled":true,"color":"#14b814","opacity":1},"encoding":{"x":{"field":"est","type":"quantitative","scale":{"domain":[-100,100],"range":[541.3,839],"nice":false,"zero":false},"axis":null},"y":{"field":"study","type":"nominal","bandPosition":0.35,"scale":{"type":"band","domain":["letter","g0","h1","h2","Bastani et al","Collins et al","Kuniss et al","Malmborg et al","Thornton et al","Timmermans et al","Wang et al","gap","total","het","test","title"],"range":[248.93,483.6],"paddingInner":0,"paddingOuter":0},"axis":null},"size":{"field":"w","type":"quantitative","scale":{"domain":[0,0.3],"range":[0,50]},"legend":null}}},
{"data":{"name":"metaB"},"mark":{"type":"point","shape":"M-1,0L0,-0.76L1,0L0,0.76Z","size":210,"filled":true,"color":"#000000","opacity":1},"encoding":{"x":{"field":"est","type":"quantitative","scale":{"domain":[-100,100],"range":[541.3,839],"nice":false,"zero":false},"axis":null},"y":{"datum":"total","type":"nominal","bandPosition":0.35,"scale":{"type":"band","domain":["letter","g0","h1","h2","Bastani et al","Collins et al","Kuniss et al","Malmborg et al","Thornton et al","Timmermans et al","Wang et al","gap","total","het","test","title"],"range":[248.93,483.6],"paddingInner":0,"paddingOuter":0},"axis":null}}},
{"data":{"name":"metaB"},"mark":{"type":"rule","color":"#333333","strokeWidth":1.2},"encoding":{"x":{"datum":0,"type":"quantitative","scale":{"domain":[-100,100],"range":[541.3,839],"nice":false,"zero":false},"axis":null},"y":{"datum":"h2","type":"nominal","bandPosition":0.83,"scale":{"type":"band","domain":["letter","g0","h1","h2","Bastani et al","Collins et al","Kuniss et al","Malmborg et al","Thornton et al","Timmermans et al","Wang et al","gap","total","het","test","title"],"range":[248.93,483.6],"paddingInner":0,"paddingOuter":0},"axis":null},"y2":{"datum":"het","bandPosition":0.25}}},
{"data":{"name":"metaB"},"mark":{"type":"rule","color":"#333333","strokeWidth":1.2},"encoding":{"x":{"datum":-100,"type":"quantitative","scale":{"domain":[-100,100],"range":[541.3,839],"nice":false,"zero":false},"axis":null},"x2":{"datum":100},"y":{"datum":"het","type":"nominal","bandPosition":0.25,"scale":{"type":"band","domain":["letter","g0","h1","h2","Bastani et al","Collins et al","Kuniss et al","Malmborg et al","Thornton et al","Timmermans et al","Wang et al","gap","total","het","test","title"],"range":[248.93,483.6],"paddingInner":0,"paddingOuter":0},"axis":null}}},
{"data":{"name":"ticksB"},"mark":{"type":"point","shape":"M0,-1L0,1","size":49,"filled":false,"color":"#333333","strokeWidth":1.2,"opacity":1},"encoding":{"x":{"field":"t","type":"quantitative","scale":{"domain":[-100,100],"range":[541.3,839],"nice":false,"zero":false},"axis":null},"y":{"datum":"het","type":"nominal","bandPosition":0.25,"scale":{"type":"band","domain":["letter","g0","h1","h2","Bastani et al","Collins et al","Kuniss et al","Malmborg et al","Thornton et al","Timmermans et al","Wang et al","gap","total","het","test","title"],"range":[248.93,483.6],"paddingInner":0,"paddingOuter":0},"axis":null}}},
{"data":{"name":"ticksB"},"mark":{"type":"text","align":{"expr":"datum.t <= -100 ? 'left' : datum.t >= 100 ? 'right' : 'center'"},"baseline":"middle","dy":8},"encoding":{"x":{"field":"t","type":"quantitative","scale":{"domain":[-100,100],"range":[541.3,839],"nice":false,"zero":false},"axis":null},"y":{"datum":"het","type":"nominal","scale":{"type":"band","domain":["letter","g0","h1","h2","Bastani et al","Collins et al","Kuniss et al","Malmborg et al","Thornton et al","Timmermans et al","Wang et al","gap","total","het","test","title"],"range":[248.93,483.6],"paddingInner":0,"paddingOuter":0},"axis":null},"text":{"field":"t","type":"nominal"}}},
{"data":{"name":"metaB"},"mark":{"type":"text","align":"right","baseline":"middle","dy":6,"dx":-3.5,"color":"#444444"},"encoding":{"x":{"datum":0,"type":"quantitative","scale":{"domain":[-100,100],"range":[541.3,839],"nice":false,"zero":false},"axis":null},"y":{"datum":"test","type":"nominal","scale":{"type":"band","domain":["letter","g0","h1","h2","Bastani et al","Collins et al","Kuniss et al","Malmborg et al","Thornton et al","Timmermans et al","Wang et al","gap","total","het","test","title"],"range":[248.93,483.6],"paddingInner":0,"paddingOuter":0},"axis":null},"text":{"field":"favL","type":"nominal"}}},
{"data":{"name":"metaB"},"mark":{"type":"text","align":"left","baseline":"middle","dy":6,"dx":6,"color":"#444444"},"encoding":{"x":{"datum":0,"type":"quantitative","scale":{"domain":[-100,100],"range":[541.3,839],"nice":false,"zero":false},"axis":null},"y":{"datum":"test","type":"nominal","scale":{"type":"band","domain":["letter","g0","h1","h2","Bastani et al","Collins et al","Kuniss et al","Malmborg et al","Thornton et al","Timmermans et al","Wang et al","gap","total","het","test","title"],"range":[248.93,483.6],"paddingInner":0,"paddingOuter":0},"axis":null},"text":{"field":"favR","type":"nominal"}}},
{"data":{"name":"metaB"},"mark":{"type":"text","align":"center","baseline":"middle","fontWeight":"bold","fontSize":10.5,"color":"#404040"},"encoding":{"x":{"datum":0,"type":"quantitative","scale":{"domain":[-100,100],"range":[541.3,839],"nice":false,"zero":false},"axis":null},"y":{"datum":"h1","type":"nominal","scale":{"type":"band","domain":["letter","g0","h1","h2","Bastani et al","Collins et al","Kuniss et al","Malmborg et al","Thornton et al","Timmermans et al","Wang et al","gap","total","het","test","title"],"range":[248.93,483.6],"paddingInner":0,"paddingOuter":0},"axis":null},"text":{"field":"effect","type":"nominal"}}},
{"data":{"name":"metaB"},"mark":{"type":"text","align":"center","baseline":"middle","fontWeight":"bold","fontSize":10.5,"color":"#404040"},"encoding":{"x":{"datum":0,"type":"quantitative","scale":{"domain":[-100,100],"range":[541.3,839],"nice":false,"zero":false},"axis":null},"y":{"datum":"h2","type":"nominal","scale":{"type":"band","domain":["letter","g0","h1","h2","Bastani et al","Collins et al","Kuniss et al","Malmborg et al","Thornton et al","Timmermans et al","Wang et al","gap","total","het","test","title"],"range":[248.93,483.6],"paddingInner":0,"paddingOuter":0},"axis":null},"text":{"field":"method","type":"nominal"}}}
]}
],"resolve":{"scale":{"x":"independent"}}},

{"layer":[
{"layer":[
{"data":{"name":"metaC"},"mark":{"type":"text","align":"left","baseline":"middle","font":"Liberation Serif","fontSize":25,"fontWeight":"bold","color":"#111111","dy":7},"encoding":{"x":{"datum":23,"type":"quantitative","scale":{"domain":[0,869],"range":[0,869],"nice":false,"zero":false},"axis":null},"y":{"datum":"letter","type":"nominal","scale":{"type":"band","domain":["letter","g0","h1","h2","Bastani et al","Collins et al","Kuniss et al","Malmborg et al","gap","total","het","test"],"range":[493.03,669.03],"paddingInner":0,"paddingOuter":0},"axis":null},"text":{"field":"letter","type":"nominal"}}},
{"data":{"name":"metaC"},"mark":{"type":"text","align":"left","baseline":"middle","fontWeight":"bold","fontSize":10.5,"color":"#404040"},"encoding":{"x":{"datum":146.7,"type":"quantitative","scale":{"domain":[0,869],"range":[0,869],"nice":false,"zero":false},"axis":null},"y":{"datum":"h1","type":"nominal","scale":{"type":"band","domain":["letter","g0","h1","h2","Bastani et al","Collins et al","Kuniss et al","Malmborg et al","gap","total","het","test"],"range":[493.03,669.03],"paddingInner":0,"paddingOuter":0},"axis":null},"text":{"field":"grpC","type":"nominal"}}},
{"data":{"name":"metaC"},"mark":{"type":"text","align":"left","baseline":"middle","fontWeight":"bold","fontSize":10.5,"color":"#404040"},"encoding":{"x":{"datum":243,"type":"quantitative","scale":{"domain":[0,869],"range":[0,869],"nice":false,"zero":false},"axis":null},"y":{"datum":"h1","type":"nominal","scale":{"type":"band","domain":["letter","g0","h1","h2","Bastani et al","Collins et al","Kuniss et al","Malmborg et al","gap","total","het","test"],"range":[493.03,669.03],"paddingInner":0,"paddingOuter":0},"axis":null},"text":{"field":"grpR","type":"nominal"}}},
{"data":{"name":"metaC"},"mark":{"type":"text","align":"center","baseline":"middle","fontWeight":"bold","fontSize":10.5,"color":"#404040"},"encoding":{"x":{"datum":482,"type":"quantitative","scale":{"domain":[0,869],"range":[0,869],"nice":false,"zero":false},"axis":null},"y":{"datum":"h1","type":"nominal","scale":{"type":"band","domain":["letter","g0","h1","h2","Bastani et al","Collins et al","Kuniss et al","Malmborg et al","gap","total","het","test"],"range":[493.03,669.03],"paddingInner":0,"paddingOuter":0},"axis":null},"text":{"field":"effect","type":"nominal"}}},
{"data":{"name":"metaC"},"mark":{"type":"text","align":"left","baseline":"middle","fontWeight":"bold","fontSize":10.5,"color":"#404040"},"encoding":{"x":{"datum":24,"type":"quantitative","scale":{"domain":[0,869],"range":[0,869],"nice":false,"zero":false},"axis":null},"y":{"datum":"h2","type":"nominal","scale":{"type":"band","domain":["letter","g0","h1","h2","Bastani et al","Collins et al","Kuniss et al","Malmborg et al","gap","total","het","test"],"range":[493.03,669.03],"paddingInner":0,"paddingOuter":0},"axis":null},"text":{"value":"Study or Subgroup"}}},
{"data":{"name":"metaC"},"mark":{"type":"text","align":"right","baseline":"middle","fontWeight":"bold","fontSize":10.5,"color":"#404040"},"encoding":{"x":{"datum":165,"type":"quantitative","scale":{"domain":[0,869],"range":[0,869],"nice":false,"zero":false},"axis":null},"y":{"datum":"h2","type":"nominal","scale":{"type":"band","domain":["letter","g0","h1","h2","Bastani et al","Collins et al","Kuniss et al","Malmborg et al","gap","total","het","test"],"range":[493.03,669.03],"paddingInner":0,"paddingOuter":0},"axis":null},"text":{"value":"Mean"}}},
{"data":{"name":"metaC"},"mark":{"type":"text","align":"right","baseline":"middle","fontWeight":"bold","fontSize":10.5,"color":"#404040"},"encoding":{"x":{"datum":195,"type":"quantitative","scale":{"domain":[0,869],"range":[0,869],"nice":false,"zero":false},"axis":null},"y":{"datum":"h2","type":"nominal","scale":{"type":"band","domain":["letter","g0","h1","h2","Bastani et al","Collins et al","Kuniss et al","Malmborg et al","gap","total","het","test"],"range":[493.03,669.03],"paddingInner":0,"paddingOuter":0},"axis":null},"text":{"value":"SD"}}},
{"data":{"name":"metaC"},"mark":{"type":"text","align":"right","baseline":"middle","fontWeight":"bold","fontSize":10.5,"color":"#404040"},"encoding":{"x":{"datum":230,"type":"quantitative","scale":{"domain":[0,869],"range":[0,869],"nice":false,"zero":false},"axis":null},"y":{"datum":"h2","type":"nominal","scale":{"type":"band","domain":["letter","g0","h1","h2","Bastani et al","Collins et al","Kuniss et al","Malmborg et al","gap","total","het","test"],"range":[493.03,669.03],"paddingInner":0,"paddingOuter":0},"axis":null},"text":{"value":"Total"}}},
{"data":{"name":"metaC"},"mark":{"type":"text","align":"right","baseline":"middle","fontWeight":"bold","fontSize":10.5,"color":"#404040"},"encoding":{"x":{"datum":278.5,"type":"quantitative","scale":{"domain":[0,869],"range":[0,869],"nice":false,"zero":false},"axis":null},"y":{"datum":"h2","type":"nominal","scale":{"type":"band","domain":["letter","g0","h1","h2","Bastani et al","Collins et al","Kuniss et al","Malmborg et al","gap","total","het","test"],"range":[493.03,669.03],"paddingInner":0,"paddingOuter":0},"axis":null},"text":{"value":"Mean"}}},
{"data":{"name":"metaC"},"mark":{"type":"text","align":"right","baseline":"middle","fontWeight":"bold","fontSize":10.5,"color":"#404040"},"encoding":{"x":{"datum":328,"type":"quantitative","scale":{"domain":[0,869],"range":[0,869],"nice":false,"zero":false},"axis":null},"y":{"datum":"h2","type":"nominal","scale":{"type":"band","domain":["letter","g0","h1","h2","Bastani et al","Collins et al","Kuniss et al","Malmborg et al","gap","total","het","test"],"range":[493.03,669.03],"paddingInner":0,"paddingOuter":0},"axis":null},"text":{"value":"SD"}}},
{"data":{"name":"metaC"},"mark":{"type":"text","align":"right","baseline":"middle","fontWeight":"bold","fontSize":10.5,"color":"#404040"},"encoding":{"x":{"datum":377,"type":"quantitative","scale":{"domain":[0,869],"range":[0,869],"nice":false,"zero":false},"axis":null},"y":{"datum":"h2","type":"nominal","scale":{"type":"band","domain":["letter","g0","h1","h2","Bastani et al","Collins et al","Kuniss et al","Malmborg et al","gap","total","het","test"],"range":[493.03,669.03],"paddingInner":0,"paddingOuter":0},"axis":null},"text":{"value":"Total"}}},
{"data":{"name":"metaC"},"mark":{"type":"text","align":"right","baseline":"middle","fontWeight":"bold","fontSize":10.5,"color":"#404040"},"encoding":{"x":{"datum":423,"type":"quantitative","scale":{"domain":[0,869],"range":[0,869],"nice":false,"zero":false},"axis":null},"y":{"datum":"h2","type":"nominal","scale":{"type":"band","domain":["letter","g0","h1","h2","Bastani et al","Collins et al","Kuniss et al","Malmborg et al","gap","total","het","test"],"range":[493.03,669.03],"paddingInner":0,"paddingOuter":0},"axis":null},"text":{"value":"Weight"}}},
{"data":{"name":"metaC"},"mark":{"type":"text","align":"right","baseline":"middle","fontWeight":"bold","fontSize":10.5,"color":"#404040"},"encoding":{"x":{"datum":540,"type":"quantitative","scale":{"domain":[0,869],"range":[0,869],"nice":false,"zero":false},"axis":null},"y":{"datum":"h2","type":"nominal","scale":{"type":"band","domain":["letter","g0","h1","h2","Bastani et al","Collins et al","Kuniss et al","Malmborg et al","gap","total","het","test"],"range":[493.03,669.03],"paddingInner":0,"paddingOuter":0},"axis":null},"text":{"field":"method","type":"nominal"}}},
{"data":{"name":"rowsC"},"mark":{"type":"text","align":"left","baseline":"middle"},"encoding":{"x":{"datum":24,"type":"quantitative","scale":{"domain":[0,869],"range":[0,869],"nice":false,"zero":false},"axis":null},"y":{"field":"study","type":"nominal","scale":{"type":"band","domain":["letter","g0","h1","h2","Bastani et al","Collins et al","Kuniss et al","Malmborg et al","gap","total","het","test"],"range":[493.03,669.03],"paddingInner":0,"paddingOuter":0},"axis":null},"text":{"field":"study","type":"nominal"}}},
{"data":{"name":"rowsC"},"mark":{"type":"text","align":"right","baseline":"middle"},"encoding":{"x":{"datum":165,"type":"quantitative","scale":{"domain":[0,869],"range":[0,869],"nice":false,"zero":false},"axis":null},"y":{"field":"study","type":"nominal","scale":{"type":"band","domain":["letter","g0","h1","h2","Bastani et al","Collins et al","Kuniss et al","Malmborg et al","gap","total","het","test"],"range":[493.03,669.03],"paddingInner":0,"paddingOuter":0},"axis":null},"text":{"field":"cMean","type":"nominal"}}},
{"data":{"name":"rowsC"},"mark":{"type":"text","align":"right","baseline":"middle"},"encoding":{"x":{"datum":195,"type":"quantitative","scale":{"domain":[0,869],"range":[0,869],"nice":false,"zero":false},"axis":null},"y":{"field":"study","type":"nominal","scale":{"type":"band","domain":["letter","g0","h1","h2","Bastani et al","Collins et al","Kuniss et al","Malmborg et al","gap","total","het","test"],"range":[493.03,669.03],"paddingInner":0,"paddingOuter":0},"axis":null},"text":{"field":"cSD","type":"nominal"}}},
{"data":{"name":"rowsC"},"mark":{"type":"text","align":"right","baseline":"middle"},"encoding":{"x":{"datum":230,"type":"quantitative","scale":{"domain":[0,869],"range":[0,869],"nice":false,"zero":false},"axis":null},"y":{"field":"study","type":"nominal","scale":{"type":"band","domain":["letter","g0","h1","h2","Bastani et al","Collins et al","Kuniss et al","Malmborg et al","gap","total","het","test"],"range":[493.03,669.03],"paddingInner":0,"paddingOuter":0},"axis":null},"text":{"field":"cN","type":"nominal"}}},
{"data":{"name":"rowsC"},"mark":{"type":"text","align":"right","baseline":"middle"},"encoding":{"x":{"datum":278.5,"type":"quantitative","scale":{"domain":[0,869],"range":[0,869],"nice":false,"zero":false},"axis":null},"y":{"field":"study","type":"nominal","scale":{"type":"band","domain":["letter","g0","h1","h2","Bastani et al","Collins et al","Kuniss et al","Malmborg et al","gap","total","het","test"],"range":[493.03,669.03],"paddingInner":0,"paddingOuter":0},"axis":null},"text":{"field":"rMean","type":"nominal"}}},
{"data":{"name":"rowsC"},"mark":{"type":"text","align":"right","baseline":"middle"},"encoding":{"x":{"datum":328,"type":"quantitative","scale":{"domain":[0,869],"range":[0,869],"nice":false,"zero":false},"axis":null},"y":{"field":"study","type":"nominal","scale":{"type":"band","domain":["letter","g0","h1","h2","Bastani et al","Collins et al","Kuniss et al","Malmborg et al","gap","total","het","test"],"range":[493.03,669.03],"paddingInner":0,"paddingOuter":0},"axis":null},"text":{"field":"rSD","type":"nominal"}}},
{"data":{"name":"rowsC"},"mark":{"type":"text","align":"right","baseline":"middle"},"encoding":{"x":{"datum":377,"type":"quantitative","scale":{"domain":[0,869],"range":[0,869],"nice":false,"zero":false},"axis":null},"y":{"field":"study","type":"nominal","scale":{"type":"band","domain":["letter","g0","h1","h2","Bastani et al","Collins et al","Kuniss et al","Malmborg et al","gap","total","het","test"],"range":[493.03,669.03],"paddingInner":0,"paddingOuter":0},"axis":null},"text":{"field":"rN","type":"nominal"}}},
{"data":{"name":"rowsC"},"mark":{"type":"text","align":"right","baseline":"middle"},"encoding":{"x":{"datum":423,"type":"quantitative","scale":{"domain":[0,869],"range":[0,869],"nice":false,"zero":false},"axis":null},"y":{"field":"study","type":"nominal","scale":{"type":"band","domain":["letter","g0","h1","h2","Bastani et al","Collins et al","Kuniss et al","Malmborg et al","gap","total","het","test"],"range":[493.03,669.03],"paddingInner":0,"paddingOuter":0},"axis":null},"text":{"field":"w","type":"quantitative","format":".1%"}}},
{"data":{"name":"rowsC"},"mark":{"type":"text","align":"right","baseline":"middle"},"encoding":{"x":{"datum":540,"type":"quantitative","scale":{"domain":[0,869],"range":[0,869],"nice":false,"zero":false},"axis":null},"y":{"field":"study","type":"nominal","scale":{"type":"band","domain":["letter","g0","h1","h2","Bastani et al","Collins et al","Kuniss et al","Malmborg et al","gap","total","het","test"],"range":[493.03,669.03],"paddingInner":0,"paddingOuter":0},"axis":null},"text":{"field":"ci","type":"nominal"}}},
{"data":{"name":"metaC"},"mark":{"type":"text","align":"left","baseline":"middle","fontWeight":"bold","fontSize":10.5},"encoding":{"x":{"datum":24,"type":"quantitative","scale":{"domain":[0,869],"range":[0,869],"nice":false,"zero":false},"axis":null},"y":{"datum":"total","type":"nominal","scale":{"type":"band","domain":["letter","g0","h1","h2","Bastani et al","Collins et al","Kuniss et al","Malmborg et al","gap","total","het","test"],"range":[493.03,669.03],"paddingInner":0,"paddingOuter":0},"axis":null},"text":{"field":"totLabel","type":"nominal"}}},
{"data":{"name":"metaC"},"mark":{"type":"text","align":"right","baseline":"middle","fontWeight":"bold","fontSize":10.5},"encoding":{"x":{"datum":230,"type":"quantitative","scale":{"domain":[0,869],"range":[0,869],"nice":false,"zero":false},"axis":null},"y":{"datum":"total","type":"nominal","scale":{"type":"band","domain":["letter","g0","h1","h2","Bastani et al","Collins et al","Kuniss et al","Malmborg et al","gap","total","het","test"],"range":[493.03,669.03],"paddingInner":0,"paddingOuter":0},"axis":null},"text":{"field":"totC","type":"nominal"}}},
{"data":{"name":"metaC"},"mark":{"type":"text","align":"right","baseline":"middle","fontWeight":"bold","fontSize":10.5},"encoding":{"x":{"datum":377,"type":"quantitative","scale":{"domain":[0,869],"range":[0,869],"nice":false,"zero":false},"axis":null},"y":{"datum":"total","type":"nominal","scale":{"type":"band","domain":["letter","g0","h1","h2","Bastani et al","Collins et al","Kuniss et al","Malmborg et al","gap","total","het","test"],"range":[493.03,669.03],"paddingInner":0,"paddingOuter":0},"axis":null},"text":{"field":"totR","type":"nominal"}}},
{"data":{"name":"metaC"},"mark":{"type":"text","align":"right","baseline":"middle","fontWeight":"bold","fontSize":10.5},"encoding":{"x":{"datum":423,"type":"quantitative","scale":{"domain":[0,869],"range":[0,869],"nice":false,"zero":false},"axis":null},"y":{"datum":"total","type":"nominal","scale":{"type":"band","domain":["letter","g0","h1","h2","Bastani et al","Collins et al","Kuniss et al","Malmborg et al","gap","total","het","test"],"range":[493.03,669.03],"paddingInner":0,"paddingOuter":0},"axis":null},"text":{"field":"totW","type":"quantitative","format":".1%"}}},
{"data":{"name":"metaC"},"mark":{"type":"text","align":"right","baseline":"middle","fontWeight":"bold","fontSize":10.5},"encoding":{"x":{"datum":540,"type":"quantitative","scale":{"domain":[0,869],"range":[0,869],"nice":false,"zero":false},"axis":null},"y":{"datum":"total","type":"nominal","scale":{"type":"band","domain":["letter","g0","h1","h2","Bastani et al","Collins et al","Kuniss et al","Malmborg et al","gap","total","het","test"],"range":[493.03,669.03],"paddingInner":0,"paddingOuter":0},"axis":null},"text":{"field":"totCI","type":"nominal"}}},
{"data":{"name":"metaC"},"mark":{"type":"text","align":"left","baseline":"middle"},"encoding":{"x":{"datum":24,"type":"quantitative","scale":{"domain":[0,869],"range":[0,869],"nice":false,"zero":false},"axis":null},"y":{"datum":"het","type":"nominal","scale":{"type":"band","domain":["letter","g0","h1","h2","Bastani et al","Collins et al","Kuniss et al","Malmborg et al","gap","total","het","test"],"range":[493.03,669.03],"paddingInner":0,"paddingOuter":0},"axis":null},"text":{"field":"het","type":"nominal"}}},
{"data":{"name":"metaC"},"mark":{"type":"text","align":"left","baseline":"middle"},"encoding":{"x":{"datum":24,"type":"quantitative","scale":{"domain":[0,869],"range":[0,869],"nice":false,"zero":false},"axis":null},"y":{"datum":"test","type":"nominal","scale":{"type":"band","domain":["letter","g0","h1","h2","Bastani et al","Collins et al","Kuniss et al","Malmborg et al","gap","total","het","test"],"range":[493.03,669.03],"paddingInner":0,"paddingOuter":0},"axis":null},"text":{"field":"test","type":"nominal"}}},
{"data":{"name":"metaC"},"mark":{"type":"text","align":"left","baseline":"middle","fontSize":23,"color":"#ee1111","dy":1},"encoding":{"x":{"datum":291,"type":"quantitative","scale":{"domain":[0,869],"range":[0,869],"nice":false,"zero":false},"axis":null},"y":{"datum":"test","type":"nominal","scale":{"type":"band","domain":["letter","g0","h1","h2","Bastani et al","Collins et al","Kuniss et al","Malmborg et al","gap","total","het","test"],"range":[493.03,669.03],"paddingInner":0,"paddingOuter":0},"axis":null},"text":{"field":"title","type":"nominal"}}},
{"data":{"name":"metaC"},"mark":{"type":"rule","color":"#555555","strokeWidth":1.5},"encoding":{"x":{"datum":14,"type":"quantitative","scale":{"domain":[0,869],"range":[0,869],"nice":false,"zero":false},"axis":null},"x2":{"datum":856},"y":{"datum":"h2","type":"nominal","bandPosition":0.83,"scale":{"type":"band","domain":["letter","g0","h1","h2","Bastani et al","Collins et al","Kuniss et al","Malmborg et al","gap","total","het","test"],"range":[493.03,669.03],"paddingInner":0,"paddingOuter":0},"axis":null}}}
]},
{"layer":[
{"data":{"name":"rowsC"},"mark":{"type":"rule","color":"#333333","strokeWidth":1.2},"encoding":{"x":{"field":"lo","type":"quantitative","scale":{"domain":[-7.85,7.85],"range":[549,846],"nice":false,"zero":false},"axis":null},"x2":{"field":"hi"},"y":{"field":"study","type":"nominal","bandPosition":0.35,"scale":{"type":"band","domain":["letter","g0","h1","h2","Bastani et al","Collins et al","Kuniss et al","Malmborg et al","gap","total","het","test"],"range":[493.03,669.03],"paddingInner":0,"paddingOuter":0},"axis":null}}},
{"data":{"name":"rowsC"},"mark":{"type":"point","shape":"square","filled":true,"color":"#14b814","opacity":1},"encoding":{"x":{"field":"est","type":"quantitative","scale":{"domain":[-7.85,7.85],"range":[549,846],"nice":false,"zero":false},"axis":null},"y":{"field":"study","type":"nominal","bandPosition":0.35,"scale":{"type":"band","domain":["letter","g0","h1","h2","Bastani et al","Collins et al","Kuniss et al","Malmborg et al","gap","total","het","test"],"range":[493.03,669.03],"paddingInner":0,"paddingOuter":0},"axis":null},"size":{"field":"w","type":"quantitative","scale":{"domain":[0,0.3],"range":[0,50]},"legend":null}}},
{"data":{"name":"metaC"},"mark":{"type":"point","shape":"M-1,0L0,-0.31L1,0L0,0.31Z","size":1260,"filled":true,"color":"#000000","opacity":1},"encoding":{"x":{"field":"est","type":"quantitative","scale":{"domain":[-7.85,7.85],"range":[549,846],"nice":false,"zero":false},"axis":null},"y":{"datum":"total","type":"nominal","bandPosition":0.35,"scale":{"type":"band","domain":["letter","g0","h1","h2","Bastani et al","Collins et al","Kuniss et al","Malmborg et al","gap","total","het","test"],"range":[493.03,669.03],"paddingInner":0,"paddingOuter":0},"axis":null}}},
{"data":{"name":"metaC"},"mark":{"type":"rule","color":"#333333","strokeWidth":1.2},"encoding":{"x":{"datum":0,"type":"quantitative","scale":{"domain":[-7.85,7.85],"range":[549,846],"nice":false,"zero":false},"axis":null},"y":{"datum":"h2","type":"nominal","bandPosition":0.83,"scale":{"type":"band","domain":["letter","g0","h1","h2","Bastani et al","Collins et al","Kuniss et al","Malmborg et al","gap","total","het","test"],"range":[493.03,669.03],"paddingInner":0,"paddingOuter":0},"axis":null},"y2":{"datum":"het","bandPosition":0.25}}},
{"data":{"name":"metaC"},"mark":{"type":"rule","color":"#333333","strokeWidth":1.2},"encoding":{"x":{"datum":-7.85,"type":"quantitative","scale":{"domain":[-7.85,7.85],"range":[549,846],"nice":false,"zero":false},"axis":null},"x2":{"datum":7.85},"y":{"datum":"het","type":"nominal","bandPosition":0.25,"scale":{"type":"band","domain":["letter","g0","h1","h2","Bastani et al","Collins et al","Kuniss et al","Malmborg et al","gap","total","het","test"],"range":[493.03,669.03],"paddingInner":0,"paddingOuter":0},"axis":null}}},
{"data":{"name":"ticksC"},"mark":{"type":"point","shape":"M0,-1L0,1","size":49,"filled":false,"color":"#333333","strokeWidth":1.2,"opacity":1},"encoding":{"x":{"field":"t","type":"quantitative","scale":{"domain":[-7.85,7.85],"range":[549,846],"nice":false,"zero":false},"axis":null},"y":{"datum":"het","type":"nominal","bandPosition":0.25,"scale":{"type":"band","domain":["letter","g0","h1","h2","Bastani et al","Collins et al","Kuniss et al","Malmborg et al","gap","total","het","test"],"range":[493.03,669.03],"paddingInner":0,"paddingOuter":0},"axis":null}}},
{"data":{"name":"ticksC"},"mark":{"type":"text","align":"center","baseline":"middle","dy":8},"encoding":{"x":{"field":"t","type":"quantitative","scale":{"domain":[-7.85,7.85],"range":[549,846],"nice":false,"zero":false},"axis":null},"y":{"datum":"het","type":"nominal","scale":{"type":"band","domain":["letter","g0","h1","h2","Bastani et al","Collins et al","Kuniss et al","Malmborg et al","gap","total","het","test"],"range":[493.03,669.03],"paddingInner":0,"paddingOuter":0},"axis":null},"text":{"field":"t","type":"nominal"}}},
{"data":{"name":"metaC"},"mark":{"type":"text","align":"right","baseline":"middle","dy":6,"dx":-4,"color":"#444444"},"encoding":{"x":{"datum":0,"type":"quantitative","scale":{"domain":[-7.85,7.85],"range":[549,846],"nice":false,"zero":false},"axis":null},"y":{"datum":"test","type":"nominal","scale":{"type":"band","domain":["letter","g0","h1","h2","Bastani et al","Collins et al","Kuniss et al","Malmborg et al","gap","total","het","test"],"range":[493.03,669.03],"paddingInner":0,"paddingOuter":0},"axis":null},"text":{"field":"favL","type":"nominal"}}},
{"data":{"name":"metaC"},"mark":{"type":"text","align":"left","baseline":"middle","dy":6,"dx":6,"color":"#444444"},"encoding":{"x":{"datum":0,"type":"quantitative","scale":{"domain":[-7.85,7.85],"range":[549,846],"nice":false,"zero":false},"axis":null},"y":{"datum":"test","type":"nominal","scale":{"type":"band","domain":["letter","g0","h1","h2","Bastani et al","Collins et al","Kuniss et al","Malmborg et al","gap","total","het","test"],"range":[493.03,669.03],"paddingInner":0,"paddingOuter":0},"axis":null},"text":{"field":"favR","type":"nominal"}}},
{"data":{"name":"metaC"},"mark":{"type":"text","align":"center","baseline":"middle","fontWeight":"bold","fontSize":10.5,"color":"#404040"},"encoding":{"x":{"datum":0,"type":"quantitative","scale":{"domain":[-7.85,7.85],"range":[549,846],"nice":false,"zero":false},"axis":null},"y":{"datum":"h1","type":"nominal","scale":{"type":"band","domain":["letter","g0","h1","h2","Bastani et al","Collins et al","Kuniss et al","Malmborg et al","gap","total","het","test"],"range":[493.03,669.03],"paddingInner":0,"paddingOuter":0},"axis":null},"text":{"field":"effect","type":"nominal"}}},
{"data":{"name":"metaC"},"mark":{"type":"text","align":"center","baseline":"middle","fontWeight":"bold","fontSize":10.5,"color":"#404040"},"encoding":{"x":{"datum":0,"type":"quantitative","scale":{"domain":[-7.85,7.85],"range":[549,846],"nice":false,"zero":false},"axis":null},"y":{"datum":"h2","type":"nominal","scale":{"type":"band","domain":["letter","g0","h1","h2","Bastani et al","Collins et al","Kuniss et al","Malmborg et al","gap","total","het","test"],"range":[493.03,669.03],"paddingInner":0,"paddingOuter":0},"axis":null},"text":{"field":"method","type":"nominal"}}}
]}
],"resolve":{"scale":{"x":"independent"}}}
],
"resolve":{"scale":{"x":"independent","y":"independent","size":"independent"}}
}
